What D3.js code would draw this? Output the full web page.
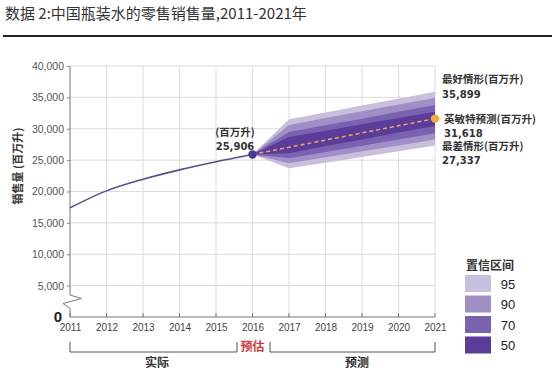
<!DOCTYPE html>
<html>
<head>
<meta charset="utf-8">
<script src="https://cdn.jsdelivr.net/npm/d3@7"></script>
<style>
  body { margin: 0; background: #fff; }
  text { font-family: "Noto Sans CJK SC", "Noto Sans", sans-serif; }
</style>
</head>
<body>
<div id="chart"></div>
<script>
// actual sales, million litres
var actualYears = [2011, 2012, 2013, 2014, 2015, 2016];
var actualValues = [17400, 20100, 21950, 23450, 24750, 25906];

// forecast (dashed)
var forecastYears = [2016, 2021];
var forecastValues = [25906, 31618];

// confidence bands, years 2016-2021
var bandYears = [2016, 2017, 2018, 2019, 2020, 2021];
var bandLevels = ["95", "90", "70", "50"];
var bandUpper = {
  "95": [25906, 31500, 32600, 33700, 34800, 35899],
  "90": [25906, 30600, 31700, 32800, 33850, 34900],
  "70": [25906, 29500, 30550, 31600, 32700, 33800],
  "50": [25906, 28700, 29700, 30700, 31700, 32700]
};
var bandLower = {
  "95": [25906, 23700, 24600, 25500, 26400, 27337],
  "90": [25906, 24500, 25450, 26400, 27350, 28300],
  "70": [25906, 25300, 26300, 27300, 28300, 29300],
  "50": [25906, 26100, 27200, 28300, 29400, 30450]
};

var yTicks = [5000, 10000, 15000, 20000, 25000, 30000, 35000, 40000];
var xTicks = [2011, 2012, 2013, 2014, 2015, 2016, 2017, 2018, 2019, 2020, 2021];

var bandColor = { "95": "#c8bedd", "90": "#a08ec7", "70": "#7b62b0", "50": "#5b3c98" };

var svgWidth = 552, svgHeight = 388;
var numFont = "DejaVu Sans, Verdana, sans-serif";
var tickFont = "Liberation Sans, Arial, sans-serif";

var svg = d3.select("#chart").append("svg")
  .attr("width", svgWidth)
  .attr("height", svgHeight);

// title
svg.append("text")
  .attr("x", 5).attr("y", 19)
  .attr("font-size", 15).attr("fill", "#333")
  .text("数据 2:中国瓶装水的零售销售量,2011-2021年");

svg.append("line")
  .attr("x1", 3).attr("x2", 552).attr("y1", 36).attr("y2", 36)
  .attr("stroke", "#222").attr("stroke-width", 2);

var x = d3.scaleLinear().domain([2011, 2021]).range([70, 435]);
var y = d3.scaleLinear().domain([0, 40000]).range([317, 66]);

// grid
svg.append("g").selectAll("line")
  .data(yTicks).enter().append("line")
  .attr("x1", x(2011)).attr("x2", x(2021))
  .attr("y1", d => y(d)).attr("y2", d => y(d))
  .attr("stroke", "#dcdcdc");

svg.append("g").selectAll("line")
  .data(xTicks.slice(1)).enter().append("line")
  .attr("x1", d => x(d)).attr("x2", d => x(d))
  .attr("y1", y(40000)).attr("y2", y(0))
  .attr("stroke", "#dcdcdc");

// y axis
var yAxis = d3.axisLeft(y).tickValues(yTicks).tickSize(3)
  .tickFormat(d3.format(","));
var yg = svg.append("g").attr("transform", `translate(${x(2011)},0)`).call(yAxis);
yg.select(".domain").remove();
yg.selectAll("text").attr("font-size", 10.5).attr("fill", "#555")
  .style("font-family", tickFont);
yg.selectAll("line").attr("stroke", "#888");

// axis line with break
svg.append("path")
  .attr("d", `M${x(2011)},${y(40000)} V295 L81.5,298.5 L63,303.5 L${x(2011)},308.5 V${y(0)} H${x(2021)}`)
  .attr("fill", "none").attr("stroke", "#777").attr("stroke-width", 1);

svg.append("text")
  .attr("x", 62).attr("y", 322)
  .attr("text-anchor", "end")
  .attr("font-size", 15).attr("font-weight", "bold").attr("fill", "#222")
  .style("font-family", tickFont)
  .text("0");

// x axis
var xAxis = d3.axisBottom(x).tickValues(xTicks).tickSize(0).tickPadding(7)
  .tickFormat(d3.format("d"));
var xg = svg.append("g").attr("transform", `translate(0,${y(0)})`).call(xAxis);
xg.select(".domain").remove();
xg.selectAll("text").attr("font-size", 10).attr("fill", "#444")
  .style("font-family", tickFont);

svg.append("g").selectAll("line")
  .data(xTicks).enter().append("line")
  .attr("x1", d => x(d)).attr("x2", d => x(d))
  .attr("y1", y(0) - 4).attr("y2", y(0))
  .attr("stroke", "#777");

// y label
svg.append("text")
  .attr("transform", "translate(22,166) rotate(-90)")
  .attr("text-anchor", "middle")
  .attr("font-size", 11).attr("font-weight", "bold").attr("fill", "#333")
  .text("销售量 (百万升)");

// bands
var area = d3.area()
  .x((d, i) => x(bandYears[i]))
  .y0(d => y(d[0]))
  .y1(d => y(d[1]));

bandLevels.forEach(function (lv) {
  var pts = bandYears.map((yr, i) => [bandLower[lv][i], bandUpper[lv][i]]);
  svg.append("path")
    .datum(pts)
    .attr("d", area)
    .attr("fill", bandColor[lv]);
});

// actual line
var line = d3.line()
  .x((d, i) => x(actualYears[i]))
  .y(d => y(d))
  .curve(d3.curveMonotoneX);

svg.append("path")
  .datum(actualValues)
  .attr("d", line)
  .attr("fill", "none")
  .attr("stroke", "#564f8c")
  .attr("stroke-width", 1.6);

// forecast dashed line
svg.append("path")
  .datum(forecastValues)
  .attr("d", d3.line().x((d, i) => x(forecastYears[i])).y(d => y(d)))
  .attr("fill", "none")
  .attr("stroke", "#f3a36a")
  .attr("stroke-width", 1.5)
  .attr("stroke-dasharray", "4,3");

svg.append("circle")
  .attr("cx", x(2016)).attr("cy", y(actualValues[5])).attr("r", 4.2)
  .attr("fill", "#4b3690");

svg.append("circle")
  .attr("cx", x(2021)).attr("cy", y(forecastValues[1])).attr("r", 4.2)
  .attr("fill", "#f5aa3c");

// annotations
var fmt = d3.format(",");
function label(tx, ty, str, anchor) {
  svg.append("text")
    .attr("x", tx).attr("y", ty)
    .attr("text-anchor", anchor || "start")
    .attr("font-size", 10.5).attr("font-weight", "bold").attr("fill", "#333")
    .text(str);
}
function number(tx, ty, str, anchor) {
  svg.append("text")
    .attr("x", tx).attr("y", ty)
    .attr("text-anchor", anchor || "start")
    .attr("font-size", 10).attr("font-weight", "bold").attr("fill", "#333")
    .style("font-family", numFont)
    .text(str);
}
label(235, 136, "(百万升)", "middle");
number(235, 150, fmt(actualValues[5]), "middle");

label(442, 83, "最好情形(百万升)");
number(442, 97.5, fmt(bandUpper["95"][5]));
label(444, 123, "英敏特预测(百万升)");
number(444, 137, fmt(forecastValues[1]));
label(442, 150, "最差情形(百万升)");
number(442, 164, fmt(bandLower["95"][5]));

// legend
svg.append("text")
  .attr("x", 490).attr("y", 270)
  .attr("text-anchor", "middle")
  .attr("font-size", 12).attr("font-weight", "bold").attr("fill", "#333")
  .text("置信区间");

var leg = svg.append("g").selectAll("g")
  .data(bandLevels).enter().append("g")
  .attr("transform", (d, i) => `translate(465,${275 + i * 20.5})`);
leg.append("rect")
  .attr("width", 26).attr("height", 17)
  .attr("fill", d => bandColor[d]);
leg.append("text")
  .attr("x", 43).attr("y", 13.5)
  .attr("text-anchor", "middle")
  .attr("font-size", 13).attr("fill", "#222")
  .style("font-family", tickFont)
  .text(d => d);

// period brackets
var bracketY = 352;
function bracket(x1, x2) {
  svg.append("path")
    .attr("d", `M${x1},${bracketY - 10} V${bracketY} H${x2} V${bracketY - 10}`)
    .attr("fill", "none").attr("stroke", "#555").attr("stroke-width", 1);
}
bracket(x(2011), 237);
bracket(270, x(2021));

svg.append("text")
  .attr("x", x(2016)).attr("y", 351)
  .attr("text-anchor", "middle")
  .attr("font-size", 12).attr("font-weight", "bold").attr("fill", "#d8363c")
  .text("预估");

svg.append("text")
  .attr("x", 157).attr("y", 367)
  .attr("text-anchor", "middle")
  .attr("font-size", 12).attr("font-weight", "bold").attr("fill", "#333")
  .text("实际");

svg.append("text")
  .attr("x", 357).attr("y", 367)
  .attr("text-anchor", "middle")
  .attr("font-size", 12).attr("font-weight", "bold").attr("fill", "#333")
  .text("预测");
</script>
</body>
</html>
